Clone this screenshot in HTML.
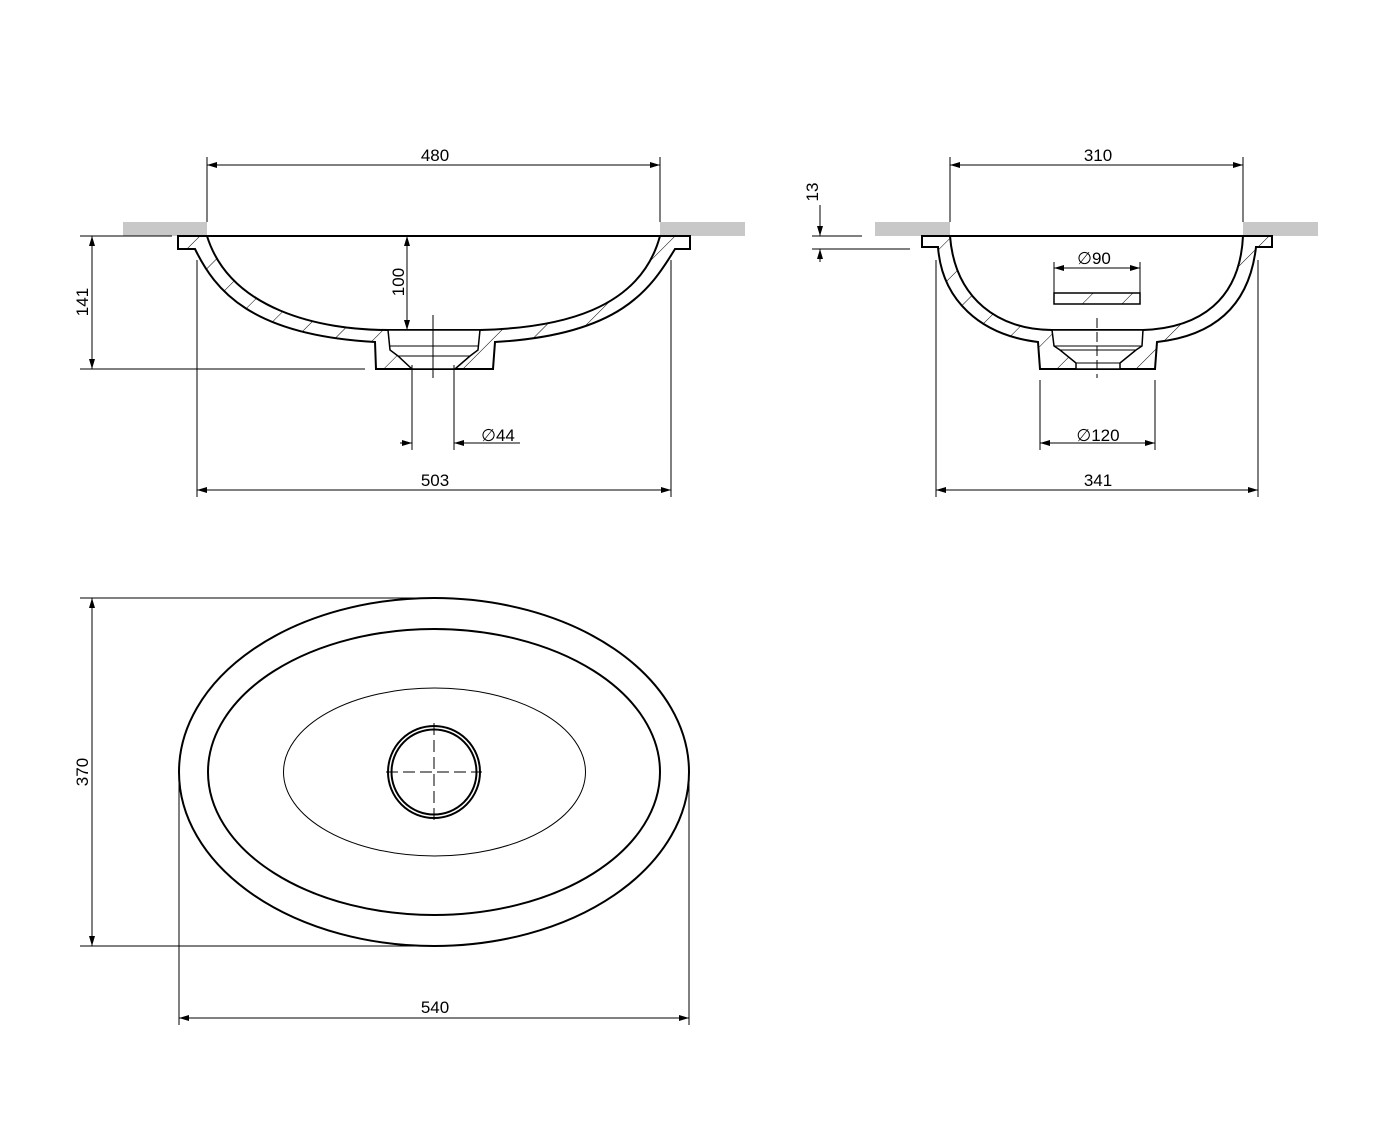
<!DOCTYPE html>
<html><head><meta charset="utf-8"><style>
html,body{margin:0;padding:0;background:#fff}
svg{display:block}
text{font-family:"Liberation Sans",sans-serif;font-size:17px;fill:#000}
</style></head><body>
<svg width="1380" height="1148" viewBox="0 0 1380 1148" xmlns="http://www.w3.org/2000/svg">
<defs>
<marker id="a" viewBox="0 0 10 6" refX="10" refY="3" markerWidth="10" markerHeight="6" orient="auto-start-reverse" markerUnits="userSpaceOnUse"><path d="M0,0L10,3L0,6z" fill="#000"/></marker>
<pattern id="h" width="28" height="28" patternUnits="userSpaceOnUse" patternTransform="rotate(45)"><line x1="0" y1="0" x2="0" y2="28" stroke="#000" stroke-width="1"/></pattern>
</defs>
<g fill="#c8c8c8">
<rect x="123" y="222" width="84" height="14"/><rect x="660" y="222" width="85" height="14"/>
<rect x="875" y="222" width="75" height="14"/><rect x="1243" y="222" width="75" height="14"/>
</g>
<g fill="none" stroke="#000" stroke-width="1">
<path d="M178,236 L690,236 L690,249 L675,249 C650,290 620,335 495,342 L493,369 L376,369 L375,342 C250,335 215,290 195,249 L178,249 Z" fill="url(#h)" stroke-width="2"/>
<path d="M207,236 C230,310 320,330 388,330 L480,330 C560,328 640,310 660,236 Z" fill="#fff" stroke-width="2"/>
<path d="M388,330 L480,330 L478,350 L470,356 L455,369 L412,369 L398,356 L390,350 Z" fill="#fff" stroke-width="1.5"/>
<path d="M390,346 L478,346 M398,356 L470,356" />
<line x1="433" y1="315" x2="433" y2="378"/>
<line x1="92" y1="236" x2="92" y2="369" marker-start="url(#a)" marker-end="url(#a)"/>
<line x1="80" y1="236" x2="172" y2="236"/><line x1="80" y1="369" x2="365" y2="369"/>
<line x1="407" y1="236" x2="407" y2="330" marker-start="url(#a)" marker-end="url(#a)"/>
<line x1="207" y1="165" x2="660" y2="165" marker-start="url(#a)" marker-end="url(#a)"/>
<line x1="207" y1="157" x2="207" y2="222"/><line x1="660" y1="157" x2="660" y2="222"/>
<line x1="197" y1="490" x2="671" y2="490" marker-start="url(#a)" marker-end="url(#a)"/>
<line x1="197" y1="260" x2="197" y2="497"/><line x1="671" y1="260" x2="671" y2="497"/>
<line x1="412" y1="365" x2="412" y2="450"/><line x1="454" y1="365" x2="454" y2="450"/>
<line x1="400" y1="443" x2="412" y2="443" marker-end="url(#a)"/><line x1="520" y1="443" x2="454" y2="443" marker-end="url(#a)"/>
<path d="M922,236 L1272,236 L1272,247 L1256,247 C1250,300 1220,335 1157,342 L1155,369 L1040,369 L1038,342 C980,335 942,300 938,247 L922,247 Z" fill="url(#h)" stroke-width="2"/>
<path d="M950,236 C955,300 1000,330 1052,330 L1143,330 C1200,328 1240,300 1243,236 Z" fill="#fff" stroke-width="2"/>
<path d="M1052,330 L1143,330 L1142,346 L1136,350 L1120,363 L1120,369 L1076,369 L1076,363 L1060,350 L1054,346 Z" fill="#fff" stroke-width="1.5"/>
<path d="M1054,346 L1142,346 M1060,350 L1136,350 M1076,363 L1120,363"/>
<line x1="1097" y1="318" x2="1097" y2="378" stroke-dasharray="10,4"/>
<rect x="1054" y="293" width="86" height="11" fill="url(#h)" stroke-width="1.5"/>
<line x1="1054" y1="268" x2="1140" y2="268" marker-start="url(#a)" marker-end="url(#a)"/>
<line x1="1054" y1="262" x2="1054" y2="293"/><line x1="1140" y1="262" x2="1140" y2="293"/>
<line x1="950" y1="165" x2="1243" y2="165" marker-start="url(#a)" marker-end="url(#a)"/>
<line x1="950" y1="157" x2="950" y2="222"/><line x1="1243" y1="157" x2="1243" y2="222"/>
<line x1="936" y1="490" x2="1258" y2="490" marker-start="url(#a)" marker-end="url(#a)"/>
<line x1="936" y1="260" x2="936" y2="497"/><line x1="1258" y1="260" x2="1258" y2="497"/>
<line x1="1040" y1="443" x2="1155" y2="443" marker-start="url(#a)" marker-end="url(#a)"/>
<line x1="1040" y1="380" x2="1040" y2="450"/><line x1="1155" y1="380" x2="1155" y2="450"/>
<line x1="820" y1="205" x2="820" y2="236" marker-end="url(#a)"/><line x1="820" y1="262" x2="820" y2="249" marker-end="url(#a)"/>
<line x1="812" y1="236" x2="862" y2="236"/><line x1="812" y1="249" x2="910" y2="249"/>
<ellipse cx="434" cy="772" rx="255" ry="174" stroke-width="2"/>
<ellipse cx="434" cy="772" rx="226" ry="143" stroke-width="2"/>
<ellipse cx="434.5" cy="772" rx="151" ry="84"/>
<circle cx="434" cy="772" r="46" stroke-width="2"/>
<circle cx="434" cy="772" r="42.5" stroke-width="2"/>
<line x1="434" y1="723" x2="434" y2="820" stroke-dasharray="12,5"/>
<line x1="386" y1="772" x2="482" y2="772" stroke-dasharray="12,5"/>
<line x1="92" y1="598" x2="92" y2="946" marker-start="url(#a)" marker-end="url(#a)"/>
<line x1="80" y1="598" x2="434" y2="598"/><line x1="80" y1="946" x2="434" y2="946"/>
<line x1="179" y1="1018" x2="689" y2="1018" marker-start="url(#a)" marker-end="url(#a)"/>
<line x1="179" y1="772" x2="179" y2="1025"/><line x1="689" y1="772" x2="689" y2="1025"/>
</g>
<g text-anchor="middle">
<text x="435" y="161">480</text>
<text x="435" y="486">503</text>
<text x="1098" y="161">310</text>
<text x="1098" y="486">341</text>
<text x="498" y="441">∅44</text>
<text x="1098" y="441">∅120</text>
<text x="1094" y="264">∅90</text>
<text x="435" y="1013">540</text>
<text transform="translate(88,302) rotate(-90)">141</text>
<text transform="translate(404,282) rotate(-90)">100</text>
<text transform="translate(818,192) rotate(-90)">13</text>
<text transform="translate(88,772) rotate(-90)">370</text>
</g>
</svg>
</body></html>
